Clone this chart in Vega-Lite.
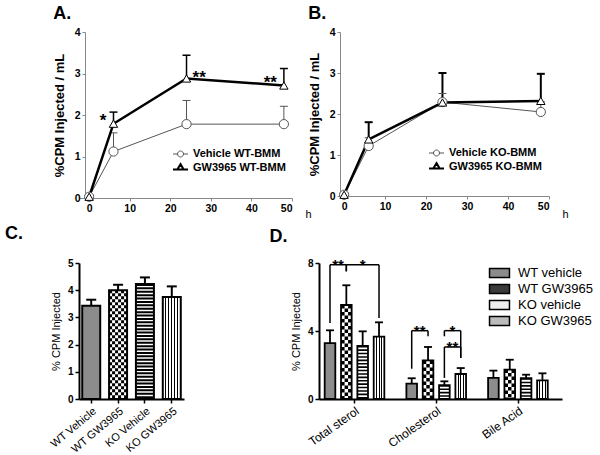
{
"$schema": "https://vega.github.io/schema/vega-lite/v6.json",
"padding": {"left": 5, "top": 5, "right": 0, "bottom": 0},
"config": {
  "font": "Liberation Sans",
  "view": {"stroke": null},
  "title": {"anchor": "start", "frame": "bounds", "fontSize": 18, "fontWeight": "bold", "color": "black", "baseline": "alphabetic"},
  "axis": {"grid": false, "labelColor": "black", "titleColor": "black", "labelFontWeight": "bold", "labelFontSize": 10.5, "titleFontWeight": "bold", "titleFontSize": 13, "domainColor": "#888", "tickColor": "#888", "tickSize": 3, "labelPadding": 2, "titlePadding": 8},
  "legend": {"labelColor": "black", "labelFont": "Liberation Sans"}
},
"datasets": {
  "ab": [
    {"p": "A", "s": "Vehicle WT-BMM", "h": 0, "v": 0.03},
    {"p": "A", "s": "Vehicle WT-BMM", "h": 6, "v": 1.12, "hi": 1.57},
    {"p": "A", "s": "Vehicle WT-BMM", "h": 24, "v": 1.78, "hi": 2.35},
    {"p": "A", "s": "Vehicle WT-BMM", "h": 48, "v": 1.78, "hi": 2.21},
    {"p": "A", "s": "GW3965 WT-BMM", "h": 0, "v": 0.03},
    {"p": "A", "s": "GW3965 WT-BMM", "h": 6, "v": 1.79, "hi": 2.07, "sig": "*"},
    {"p": "A", "s": "GW3965 WT-BMM", "h": 24, "v": 2.88, "hi": 3.44, "sig": "**"},
    {"p": "A", "s": "GW3965 WT-BMM", "h": 48, "v": 2.71, "hi": 3.12, "sig": "**"},
    {"p": "B", "s": "Vehicle KO-BMM", "h": 0, "v": 0.03},
    {"p": "B", "s": "Vehicle KO-BMM", "h": 6, "v": 1.22, "hi": 1.42},
    {"p": "B", "s": "Vehicle KO-BMM", "h": 24, "v": 2.29, "hi": 2.5},
    {"p": "B", "s": "Vehicle KO-BMM", "h": 48, "v": 2.05, "hi": 2.3},
    {"p": "B", "s": "GW3965 KO-BMM", "h": 0, "v": 0.03},
    {"p": "B", "s": "GW3965 KO-BMM", "h": 6, "v": 1.38, "hi": 1.8},
    {"p": "B", "s": "GW3965 KO-BMM", "h": 24, "v": 2.28, "hi": 3.0},
    {"p": "B", "s": "GW3965 KO-BMM", "h": 48, "v": 2.32, "hi": 2.98}
  ],
  "c": [
    {"g": "WT Vehicle", "v": 3.43, "hi": 3.65},
    {"g": "WT GW3965", "v": 4.0, "hi": 4.2},
    {"g": "KO Vehicle", "v": 4.23, "hi": 4.47},
    {"g": "KO GW3965", "v": 3.75, "hi": 4.14}
  ],
  "d": [
    {"grp": "Total sterol", "s": "WT vehicle", "v": 3.29, "hi": 4.04},
    {"grp": "Total sterol", "s": "WT GW3965", "v": 5.53, "hi": 6.69},
    {"grp": "Total sterol", "s": "KO vehicle", "v": 3.12, "hi": 3.98},
    {"grp": "Total sterol", "s": "KO GW3965", "v": 3.67, "hi": 4.51},
    {"grp": "Cholesterol", "s": "WT vehicle", "v": 0.9, "hi": 1.22},
    {"grp": "Cholesterol", "s": "WT GW3965", "v": 2.27, "hi": 3.06},
    {"grp": "Cholesterol", "s": "KO vehicle", "v": 0.82, "hi": 1.04},
    {"grp": "Cholesterol", "s": "KO GW3965", "v": 1.47, "hi": 1.82},
    {"grp": "Bile Acid", "s": "WT vehicle", "v": 1.24, "hi": 1.67},
    {"grp": "Bile Acid", "s": "WT GW3965", "v": 1.73, "hi": 2.31},
    {"grp": "Bile Acid", "s": "KO vehicle", "v": 1.22, "hi": 1.43},
    {"grp": "Bile Acid", "s": "KO GW3965", "v": 1.1, "hi": 1.51}
  ],
  "br": [
    {"from": "Total sterol|WT vehicle", "to": "Total sterol|WT GW3965", "top": 7.9, "lo1": 4.47, "lo2": 7.51, "lbl": "**"},
    {"from": "Total sterol|WT GW3965", "to": "Total sterol|KO GW3965", "top": 7.9, "lo1": 7.51, "lo2": 4.76, "lbl": "*", "at": "Total sterol|KO vehicle"},
    {"from": "Cholesterol|WT vehicle", "to": "Cholesterol|WT GW3965", "top": 4.02, "lo1": 1.78, "lo2": 3.69, "lbl": "**"},
    {"from": "Cholesterol|KO vehicle", "to": "Cholesterol|KO GW3965", "top": 4.02, "lo1": 3.69, "lo2": 2.41, "lbl": "*"},
    {"from": "Cholesterol|KO vehicle", "to": "Cholesterol|KO GW3965", "top": 3.06, "lo1": 1.24, "lo2": 2.41, "lbl": "**"}
  ]
},
"spacing": 231,
"bounds": "flush",
"resolve": {"scale": {"x": "independent", "y": "independent", "shape": "independent", "stroke": "independent", "strokeWidth": "independent", "fill": "independent", "color": "independent"}, "legend": {"shape": "independent", "stroke": "independent", "strokeWidth": "independent", "fill": "independent"}},
"vconcat": [
{
  "spacing": 48,
  "bounds": "flush",
  "resolve": {"scale": {"x": "independent", "y": "independent", "shape": "independent", "stroke": "independent", "strokeWidth": "independent", "fill": "independent", "color": "independent"}, "legend": {"shape": "independent", "stroke": "independent", "strokeWidth": "independent", "fill": "independent"}},
  "hconcat": [
  {
    "width": 213, "height": 166,
    "title": {"text": "A.", "offset": 4},
    "data": {"name": "ab"},
    "transform": [{"filter": "datum.p == 'A'"}],
    "encoding": {
      "x": {"field": "h", "type": "quantitative", "title": "h", "scale": {"domain": [-2.5, 50], "nice": false, "zero": false},
        "axis": {"values": [0, 10, 20, 30, 40, 50], "titleX": 226, "titleY": 19, "titleAlign": "left", "titleBaseline": "alphabetic", "titleFontWeight": "normal", "titleFontSize": 11}},
      "y": {"field": "v", "type": "quantitative", "title": "%CPM Injected / mL", "scale": {"domain": [0, 4], "nice": false},
        "axis": {"values": [0, 1, 2, 3, 4], "offset": -6}}
    },
    "layer": [
      {"transform": [{"filter": "datum.hi != null && datum.s == 'Vehicle WT-BMM'"}], "mark": {"type": "rule", "color": "#555", "strokeWidth": 1}, "encoding": {"y2": {"field": "hi"}}},
      {"transform": [{"filter": "datum.hi != null && datum.s == 'GW3965 WT-BMM'"}], "mark": {"type": "rule", "color": "#000", "strokeWidth": 1.5}, "encoding": {"y2": {"field": "hi"}}},
      {"transform": [{"filter": "datum.hi != null && datum.s == 'Vehicle WT-BMM'"}], "mark": {"type": "point", "shape": "M-1,0L1,0", "size": 64, "filled": false, "color": "#555", "strokeWidth": 1, "opacity": 1}, "encoding": {"y": {"field": "hi", "type": "quantitative", "title": "%CPM Injected / mL"}}},
      {"transform": [{"filter": "datum.hi != null && datum.s == 'GW3965 WT-BMM'"}], "mark": {"type": "point", "shape": "M-1,0L1,0", "size": 64, "filled": false, "color": "#000", "strokeWidth": 1.5, "opacity": 1}, "encoding": {"y": {"field": "hi", "type": "quantitative", "title": "%CPM Injected / mL"}}},
      {"transform": [{"filter": "datum.s == 'Vehicle WT-BMM'"}], "mark": {"type": "line", "color": "#555", "strokeWidth": 1}, "encoding": {}},
      {"transform": [{"filter": "datum.s == 'GW3965 WT-BMM'"}], "mark": {"type": "line", "color": "#000", "strokeWidth": 2.5}, "encoding": {}},
      {"transform": [{"filter": "datum.s == 'Vehicle WT-BMM'"}], "mark": {"type": "point", "shape": "circle", "size": 85, "filled": true, "fill": "white", "stroke": "#555", "strokeWidth": 1, "opacity": 1}},
      {"transform": [{"filter": "datum.s == 'GW3965 WT-BMM'"}], "mark": {"type": "point", "shape": "triangle-up", "size": 70, "filled": true, "fill": "white", "stroke": "#000", "strokeWidth": 1, "opacity": 1}},
      {"transform": [{"filter": "datum.sig != null && datum.h != 24"}], "mark": {"type": "text", "align": "right", "dx": -7, "dy": 2, "baseline": "alphabetic", "fontSize": 17, "fontWeight": "bold"}, "encoding": {"text": {"field": "sig"}}},
      {"transform": [{"filter": "datum.sig != null && datum.h == 24"}], "mark": {"type": "text", "align": "left", "dx": 6, "dy": 5, "baseline": "alphabetic", "fontSize": 17, "fontWeight": "bold"}, "encoding": {"text": {"field": "sig"}}},
      {"transform": [{"filter": "false"}], "mark": {"type": "point", "filled": false, "opacity": 1},
        "encoding": {
          "shape": {"field": "s", "type": "nominal", "scale": {"domain": ["Vehicle WT-BMM", "GW3965 WT-BMM"], "range": ["M-1,0L-0.4,0M0.4,0L1,0M0.4,0A0.4,0.4,0,1,1,-0.4,0A0.4,0.4,0,1,1,0.4,0", "M-1,0.25L-0.42,0.25M0.42,0.25L1,0.25M0,-0.45L0.42,0.25L-0.42,0.25Z"]},
            "legend": {"orient": "none", "legendX": 93, "legendY": 114, "title": null, "labelFontSize": 11, "labelFontWeight": "bold", "symbolSize": 225, "labelOffset": 4, "rowPadding": 0}},
          "strokeWidth": {"field": "s", "type": "nominal", "scale": {"domain": ["Vehicle WT-BMM", "GW3965 WT-BMM"], "range": [1, 2]},
            "legend": {"orient": "none", "legendX": 93, "legendY": 114, "title": null, "labelFontSize": 11, "labelFontWeight": "bold", "symbolSize": 225, "labelOffset": 4, "rowPadding": 0}},
          "stroke": {"field": "s", "type": "nominal", "scale": {"domain": ["Vehicle WT-BMM", "GW3965 WT-BMM"], "range": ["#555", "#000"]},
            "legend": {"orient": "none", "legendX": 93, "legendY": 114, "title": null, "labelFontSize": 11, "labelFontWeight": "bold", "symbolSize": 225, "labelOffset": 4, "rowPadding": 0}}
        }}
    ]
  },
  {
    "width": 209, "height": 164,
    "title": {"text": "B.", "offset": 4},
    "data": {"name": "ab"},
    "transform": [{"filter": "datum.p == 'B'"}],
    "encoding": {
      "x": {"field": "h", "type": "quantitative", "title": "h", "scale": {"domain": [-1, 50], "nice": false, "zero": false},
        "axis": {"values": [0, 10, 20, 30, 40, 50], "titleX": 222, "titleY": 21, "titleAlign": "left", "titleBaseline": "alphabetic", "titleFontWeight": "normal", "titleFontSize": 11}},
      "y": {"field": "v", "type": "quantitative", "title": "%CPM Injected / mL", "scale": {"domain": [0, 4], "nice": false},
        "axis": {"values": [0, 1, 2, 3, 4]}}
    },
    "layer": [
      {"transform": [{"filter": "datum.hi != null && datum.s == 'Vehicle KO-BMM'"}], "mark": {"type": "rule", "color": "#555", "strokeWidth": 1}, "encoding": {"y2": {"field": "hi"}}},
      {"transform": [{"filter": "datum.hi != null && datum.s == 'GW3965 KO-BMM'"}], "mark": {"type": "rule", "color": "#000", "strokeWidth": 2}, "encoding": {"y2": {"field": "hi"}}},
      {"transform": [{"filter": "datum.hi != null && datum.s == 'Vehicle KO-BMM'"}], "mark": {"type": "point", "shape": "M-1,0L1,0", "size": 64, "filled": false, "color": "#555", "strokeWidth": 1, "opacity": 1}, "encoding": {"y": {"field": "hi", "type": "quantitative", "title": "%CPM Injected / mL"}}},
      {"transform": [{"filter": "datum.hi != null && datum.s == 'GW3965 KO-BMM'"}], "mark": {"type": "point", "shape": "M-1,0L1,0", "size": 64, "filled": false, "color": "#000", "strokeWidth": 2, "opacity": 1}, "encoding": {"y": {"field": "hi", "type": "quantitative", "title": "%CPM Injected / mL"}}},
      {"transform": [{"filter": "datum.s == 'Vehicle KO-BMM'"}], "mark": {"type": "line", "color": "#555", "strokeWidth": 1}, "encoding": {}},
      {"transform": [{"filter": "datum.s == 'GW3965 KO-BMM'"}], "mark": {"type": "line", "color": "#000", "strokeWidth": 2.5}, "encoding": {}},
      {"transform": [{"filter": "datum.s == 'Vehicle KO-BMM'"}], "mark": {"type": "point", "shape": "circle", "size": 85, "filled": true, "fill": "white", "stroke": "#555", "strokeWidth": 1, "opacity": 1}},
      {"transform": [{"filter": "datum.s == 'GW3965 KO-BMM'"}], "mark": {"type": "point", "shape": "triangle-up", "size": 70, "filled": true, "fill": "white", "stroke": "#000", "strokeWidth": 1, "opacity": 1}},
      {"transform": [{"filter": "false"}], "mark": {"type": "point", "filled": false, "opacity": 1},
        "encoding": {
          "shape": {"field": "s", "type": "nominal", "scale": {"domain": ["Vehicle KO-BMM", "GW3965 KO-BMM"], "range": ["M-1,0L-0.4,0M0.4,0L1,0M0.4,0A0.4,0.4,0,1,1,-0.4,0A0.4,0.4,0,1,1,0.4,0", "M-1,0.25L-0.42,0.25M0.42,0.25L1,0.25M0,-0.45L0.42,0.25L-0.42,0.25Z"]},
            "legend": {"orient": "none", "legendX": 88, "legendY": 113, "title": null, "labelFontSize": 11, "labelFontWeight": "bold", "symbolSize": 225, "labelOffset": 4, "rowPadding": 0}},
          "strokeWidth": {"field": "s", "type": "nominal", "scale": {"domain": ["Vehicle KO-BMM", "GW3965 KO-BMM"], "range": [1, 2]},
            "legend": {"orient": "none", "legendX": 88, "legendY": 113, "title": null, "labelFontSize": 11, "labelFontWeight": "bold", "symbolSize": 225, "labelOffset": 4, "rowPadding": 0}},
          "stroke": {"field": "s", "type": "nominal", "scale": {"domain": ["Vehicle KO-BMM", "GW3965 KO-BMM"], "range": ["#555", "#000"]},
            "legend": {"orient": "none", "legendX": 88, "legendY": 113, "title": null, "labelFontSize": 11, "labelFontWeight": "bold", "symbolSize": 225, "labelOffset": 4, "rowPadding": 0}}
        }}
    ]
  }
  ]
},
{
  "spacing": 135,
  "bounds": "flush",
  "resolve": {"scale": {"x": "independent", "y": "independent", "shape": "independent", "stroke": "independent", "strokeWidth": "independent", "fill": "independent", "color": "independent"}, "legend": {"shape": "independent", "stroke": "independent", "strokeWidth": "independent", "fill": "independent"}},
  "hconcat": [
  {
    "width": 105, "height": 136,
    "title": {"text": "C.", "dx": -43, "offset": 15},
    "data": {"name": "c"},
    "encoding": {
      "x": {"field": "g", "type": "nominal", "title": null, "scale": {"domain": ["WT Vehicle", "WT GW3965", "KO Vehicle", "KO GW3965"], "paddingInner": 0.33, "paddingOuter": 0.12},
        "axis": {"labelAngle": -40, "labelFontSize": 11, "labelFontWeight": "normal", "domainColor": "black", "domainWidth": 2, "tickColor": "black", "tickWidth": 1.5, "tickSize": 4, "labelPadding": 2}},
      "y": {"field": "v", "type": "quantitative", "title": "% CPM Injected", "scale": {"domain": [0, 5], "nice": false},
        "axis": {"values": [0, 1, 2, 3, 4, 5], "domainColor": "black", "domainWidth": 2, "tickColor": "black", "tickWidth": 1.5, "tickSize": 4, "labelFontSize": 10, "titleFontSize": 11, "titleFontWeight": "normal", "titlePadding": 6}}
    },
    "layer": [
      {"mark": {"type": "bar", "strokeWidth": 0}, "encoding": {"fill": {"condition": {"test": "datum.g == 'WT Vehicle'", "value": "#8c8c8c"}, "value": "white"}}},
      {"transform": [{"filter": "datum.g == 'WT GW3965'"}], "mark": {"type": "rule", "color": "black", "strokeWidth": 3, "strokeDash": [3, 3], "strokeDashOffset": 0, "xOffset": -7.5}, "encoding": {"y2": {"datum": 0}}},
      {"transform": [{"filter": "datum.g == 'WT GW3965'"}], "mark": {"type": "rule", "color": "black", "strokeWidth": 3, "strokeDash": [3, 3], "strokeDashOffset": 3, "xOffset": -4.5}, "encoding": {"y2": {"datum": 0}}},
      {"transform": [{"filter": "datum.g == 'WT GW3965'"}], "mark": {"type": "rule", "color": "black", "strokeWidth": 3, "strokeDash": [3, 3], "strokeDashOffset": 0, "xOffset": -1.5}, "encoding": {"y2": {"datum": 0}}},
      {"transform": [{"filter": "datum.g == 'WT GW3965'"}], "mark": {"type": "rule", "color": "black", "strokeWidth": 3, "strokeDash": [3, 3], "strokeDashOffset": 3, "xOffset": 1.5}, "encoding": {"y2": {"datum": 0}}},
      {"transform": [{"filter": "datum.g == 'WT GW3965'"}], "mark": {"type": "rule", "color": "black", "strokeWidth": 3, "strokeDash": [3, 3], "strokeDashOffset": 0, "xOffset": 4.5}, "encoding": {"y2": {"datum": 0}}},
      {"transform": [{"filter": "datum.g == 'WT GW3965'"}], "mark": {"type": "rule", "color": "black", "strokeWidth": 3, "strokeDash": [3, 3], "strokeDashOffset": 3, "xOffset": 7.5}, "encoding": {"y2": {"datum": 0}}},
      {"transform": [{"filter": "datum.g == 'KO Vehicle'"}], "mark": {"type": "rule", "color": "black", "strokeWidth": 17, "strokeDash": [2, 1.4]}, "encoding": {"y2": {"datum": 0}}},
      {"transform": [{"filter": "datum.g == 'KO GW3965'"}], "mark": {"type": "bar", "strokeWidth": 0, "fill": {"gradient": "linear", "x1": 0, "y1": 0, "x2": 1, "y2": 0, "stops": [
        {"offset": 0, "color": "white"}, {"offset": 0.139, "color": "white"}, {"offset": 0.139, "color": "black"}, {"offset": 0.194, "color": "black"}, {"offset": 0.194, "color": "white"},
        {"offset": 0.306, "color": "white"}, {"offset": 0.306, "color": "black"}, {"offset": 0.361, "color": "black"}, {"offset": 0.361, "color": "white"},
        {"offset": 0.472, "color": "white"}, {"offset": 0.472, "color": "black"}, {"offset": 0.528, "color": "black"}, {"offset": 0.528, "color": "white"},
        {"offset": 0.639, "color": "white"}, {"offset": 0.639, "color": "black"}, {"offset": 0.694, "color": "black"}, {"offset": 0.694, "color": "white"},
        {"offset": 0.806, "color": "white"}, {"offset": 0.806, "color": "black"}, {"offset": 0.861, "color": "black"}, {"offset": 0.861, "color": "white"}, {"offset": 1, "color": "white"}]}}},
      {"mark": {"type": "bar", "fill": "transparent", "stroke": "black", "strokeWidth": 2}},
      {"mark": {"type": "rule", "color": "black", "strokeWidth": 2}, "encoding": {"y2": {"field": "hi"}}},
      {"mark": {"type": "point", "shape": "M-1,0L1,0", "size": 100, "filled": false, "color": "black", "strokeWidth": 2, "opacity": 1}, "encoding": {"y": {"field": "hi", "type": "quantitative", "title": "% CPM Injected"}}}
    ]
  },
  {
    "width": 243, "height": 136,
    "title": {"text": "D.", "dx": -21, "offset": 12},
    "layer": [
      {
        "data": {"name": "d"},
        "transform": [{"calculate": "datum.grp + '|' + datum.s", "as": "key"}],
        "encoding": {
          "x": {"field": "key", "type": "nominal", "title": null,
            "scale": {"domain": ["Total sterol|WT vehicle", "Total sterol|WT GW3965", "Total sterol|KO vehicle", "Total sterol|KO GW3965", "_a", "Cholesterol|WT vehicle", "Cholesterol|WT GW3965", "Cholesterol|KO vehicle", "Cholesterol|KO GW3965", "_b", "Bile Acid|WT vehicle", "Bile Acid|WT GW3965", "Bile Acid|KO vehicle", "Bile Acid|KO GW3965"], "paddingInner": 0.35, "paddingOuter": 0.61, "align": 0.285},
            "axis": {"values": ["Total sterol|WT GW3965", "Cholesterol|WT GW3965", "Bile Acid|WT GW3965"], "labelExpr": "split(datum.value, '|')[0]", "tickOffset": 8, "labelAngle": -35, "labelFontSize": 12, "labelFontWeight": "normal", "domainColor": "black", "domainWidth": 2, "tickColor": "black", "tickWidth": 1.5, "tickSize": 4, "labelPadding": 2}},
          "y": {"field": "v", "type": "quantitative", "title": "% CPM Injected", "scale": {"domain": [0, 8], "nice": false},
            "axis": {"values": [0, 2, 4, 6, 8], "domainColor": "black", "domainWidth": 2, "tickColor": "black", "tickWidth": 1.5, "tickSize": 4, "labelFontSize": 10, "titleFontSize": 11, "titleFontWeight": "normal", "titlePadding": 6}}
        },
        "layer": [
          {"mark": {"type": "bar", "strokeWidth": 0}, "encoding": {"fill": {"condition": {"test": "datum.s == 'WT vehicle'", "value": "#8c8c8c"}, "value": "white"}}},
          {"transform": [{"filter": "datum.s == 'WT GW3965'"}], "mark": {"type": "rule", "color": "black", "strokeWidth": 3.5, "strokeDash": [3.5, 3.5], "strokeDashOffset": 0, "xOffset": -3.5}, "encoding": {"y2": {"datum": 0}}},
          {"transform": [{"filter": "datum.s == 'WT GW3965'"}], "mark": {"type": "rule", "color": "black", "strokeWidth": 3.5, "strokeDash": [3.5, 3.5], "strokeDashOffset": 3.5, "xOffset": 0}, "encoding": {"y2": {"datum": 0}}},
          {"transform": [{"filter": "datum.s == 'WT GW3965'"}], "mark": {"type": "rule", "color": "black", "strokeWidth": 3.5, "strokeDash": [3.5, 3.5], "strokeDashOffset": 0, "xOffset": 3.5}, "encoding": {"y2": {"datum": 0}}},
          {"transform": [{"filter": "datum.s == 'KO vehicle'"}], "mark": {"type": "rule", "color": "black", "strokeWidth": 10, "strokeDash": [1.6, 1.8]}, "encoding": {"y2": {"datum": 0}}},
          {"transform": [{"filter": "datum.s == 'KO GW3965'"}], "mark": {"type": "bar", "strokeWidth": 0, "fill": {"gradient": "linear", "x1": 0, "y1": 0, "x2": 1, "y2": 0, "stops": [
            {"offset": 0, "color": "white"}, {"offset": 0.203, "color": "white"}, {"offset": 0.203, "color": "black"}, {"offset": 0.297, "color": "black"}, {"offset": 0.297, "color": "white"},
            {"offset": 0.453, "color": "white"}, {"offset": 0.453, "color": "black"}, {"offset": 0.547, "color": "black"}, {"offset": 0.547, "color": "white"},
            {"offset": 0.703, "color": "white"}, {"offset": 0.703, "color": "black"}, {"offset": 0.797, "color": "black"}, {"offset": 0.797, "color": "white"}, {"offset": 1, "color": "white"}]}}},
          {"mark": {"type": "bar", "fill": "transparent", "stroke": "black", "strokeWidth": 1.8}},
          {"mark": {"type": "rule", "color": "black", "strokeWidth": 1.8}, "encoding": {"y2": {"field": "hi"}}},
          {"mark": {"type": "point", "shape": "M-1,0L1,0", "size": 64, "filled": false, "color": "black", "strokeWidth": 1.8, "opacity": 1}, "encoding": {"y": {"field": "hi", "type": "quantitative", "title": "% CPM Injected"}}},
          {"transform": [{"filter": "false"}], "mark": {"type": "bar", "stroke": "black", "strokeWidth": 1.5},
            "encoding": {"fill": {"field": "s", "type": "nominal", "scale": {"domain": ["WT vehicle", "WT GW3965", "KO vehicle", "KO GW3965"], "range": ["#8c8c8c", "#3a3a3a", "#eeeeee", "#bbbbbb"]},
              "legend": {"orient": "none", "legendX": 172, "legendY": 1.5, "title": null, "symbolType": "M-1.33,-0.6H1.33V0.6H-1.33Z", "symbolSize": 225, "symbolStrokeColor": "black", "symbolStrokeWidth": 1.5, "labelFontSize": 13, "labelFontWeight": "normal", "labelOffset": 10, "rowPadding": 0, "symbolOpacity": 1}}}}
        ]
      },
      {
        "data": {"name": "br"},
        "layer": [
          {"mark": {"type": "rule", "color": "black", "strokeWidth": 1.5}, "encoding": {"x": {"field": "from", "type": "nominal", "title": null}, "x2": {"field": "to"}, "y": {"field": "top", "type": "quantitative", "title": "% CPM Injected"}}},
          {"mark": {"type": "rule", "color": "black", "strokeWidth": 1.5}, "encoding": {"x": {"field": "from", "type": "nominal", "title": null}, "y": {"field": "top", "type": "quantitative", "title": "% CPM Injected"}, "y2": {"field": "lo1"}}},
          {"mark": {"type": "rule", "color": "black", "strokeWidth": 1.5}, "encoding": {"x": {"field": "to", "type": "nominal", "title": null}, "y": {"field": "top", "type": "quantitative", "title": "% CPM Injected"}, "y2": {"field": "lo2"}}},
          {"transform": [{"filter": "datum.at == null"}], "mark": {"type": "text", "fontSize": 15, "fontWeight": "bold", "baseline": "alphabetic", "dx": 8, "dy": 5}, "encoding": {"x": {"field": "from", "type": "nominal", "title": null}, "y": {"field": "top", "type": "quantitative", "title": "% CPM Injected"}, "text": {"field": "lbl"}}},
          {"transform": [{"filter": "datum.at != null"}], "mark": {"type": "text", "fontSize": 15, "fontWeight": "bold", "baseline": "alphabetic", "dy": 5}, "encoding": {"x": {"field": "at", "type": "nominal", "title": null}, "y": {"field": "top", "type": "quantitative", "title": "% CPM Injected"}, "text": {"field": "lbl"}}}
        ]
      }
    ]
  }
  ]
}
]
}
